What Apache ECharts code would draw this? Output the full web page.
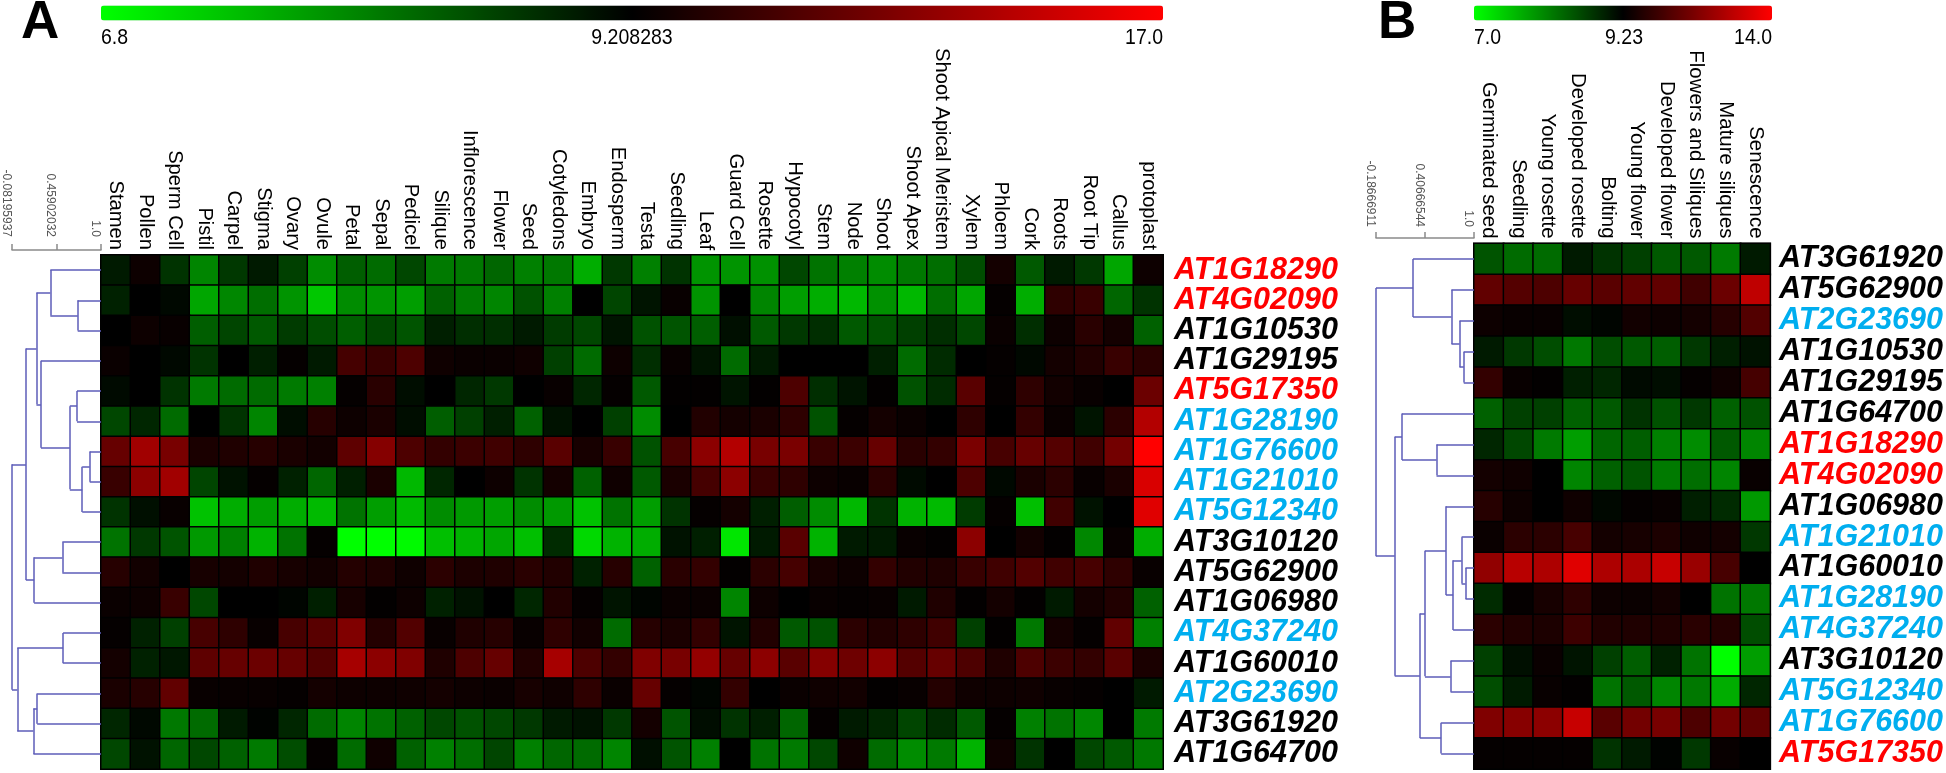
<!DOCTYPE html>
<html><head><meta charset="utf-8">
<style>html,body{margin:0;padding:0;background:#fff}#c{width:1946px;height:773px}</style>
<script src="https://cdn.jsdelivr.net/npm/echarts@6/dist/echarts.min.js"></script>
</head><body><div id="c"></div>
<script>
// Heat values are read from the picture as position on the colour bar:
// -100 = green end, 0 = black midpoint, +100 = red end.
const tissuesA = ['Stamen','Pollen','Sperm Cell','Pistil','Carpel','Stigma','Ovary','Ovule','Petal','Sepal','Pedicel','Silique','Inflorescence','Flower','Seed','Cotyledons','Embryo','Endosperm','Testa','Seedling','Leaf','Guard Cell','Rosette','Hypocotyl','Stem','Node','Shoot','Shoot Apex','Shoot Apical Meristem','Xylem','Phloem','Cork','Roots','Root Tip','Callus','protoplast'];
const genesA = ['AT1G18290','AT4G02090','AT1G10530','AT1G29195','AT5G17350','AT1G28190','AT1G76600','AT1G21010','AT5G12340','AT3G10120','AT5G62900','AT1G06980','AT4G37240','AT1G60010','AT2G23690','AT3G61920','AT1G64700'];
const a00 = [-10,5,-20,-52,-22,-10,-25,-55,-37,-42,-28,-48,-47,-40,-50,-47,-68,-22,-50,-20,-58,-58,-57,-28,-45,-50,-55,-47,-43,-30,8,-35,-10,-22,-65,5];
const a01 = [-13,0,-3,-65,-53,-43,-58,-78,-55,-58,-62,-38,-48,-52,-32,-50,0,-27,-8,3,-58,0,-52,-62,-68,-72,-57,-72,-43,-65,2,-68,18,22,-40,-20];
const a02 = [0,5,3,-37,-27,-35,-23,-30,-37,-28,-33,-12,-18,-18,-10,-23,-28,-8,-32,-33,-37,-6,-35,-22,-18,-35,-32,-25,-18,-28,4,-18,5,16,8,-38];
const a03 = [4,0,-3,-20,0,-12,2,-10,27,22,30,6,4,4,6,-25,-42,5,-18,3,-8,-42,-10,0,0,0,-12,-42,-17,0,2,-3,8,13,22,17];
const a04 = [-4,0,-20,-48,-42,-42,-48,-50,2,16,-5,0,-15,-22,0,3,-15,2,-35,1,1,-8,1,30,-18,-8,1,-32,-17,35,2,18,7,3,0,42];
const a05 = [-28,-15,-42,0,-20,-52,-5,15,5,10,-5,-37,-25,-12,-38,-7,0,-25,-55,0,13,8,10,18,-32,2,8,4,0,18,0,20,4,-8,17,70];
const a06 = [40,63,47,10,12,15,10,7,37,52,30,20,23,25,18,35,9,22,-32,28,55,70,47,48,22,23,40,16,20,48,28,40,33,25,45,100];
const a07 = [22,55,63,-27,-7,2,-13,-40,-12,10,-72,-15,0,5,-20,8,-38,6,-35,10,27,55,22,18,5,3,17,-4,0,30,-3,10,17,3,10,85];
const a08 = [-20,-6,3,-76,-68,-62,-68,-73,-45,-62,-73,-55,-60,-62,-55,-60,-76,-45,-62,-20,2,8,-12,-37,-55,-72,-20,-70,-73,-23,2,-75,25,-7,0,88];
const a09 = [-45,-22,-33,-60,-50,-70,-45,2,-100,-100,-98,-75,-70,-65,-75,-17,-85,-70,-68,-7,-12,-90,-10,35,-70,-10,-10,3,1,55,0,7,1,-53,3,-68];
const a10 = [15,7,0,9,8,12,9,7,14,12,6,17,11,12,16,13,-13,15,-38,16,20,1,17,27,9,5,20,13,12,22,25,32,25,28,18,3];
const a11 = [4,5,22,-28,0,0,-2,-12,9,1,5,-13,-7,0,-15,13,2,-8,-2,4,4,-52,5,0,3,2,3,-10,12,1,8,1,-10,8,13,-38];
const a12 = [2,-13,-25,28,18,3,28,35,50,14,32,3,12,15,3,18,7,-42,15,10,20,-8,13,-35,-32,17,13,18,25,-25,1,-47,8,2,38,-50];
const a13 = [8,-13,-9,37,40,42,40,32,65,55,50,12,30,40,13,65,30,20,50,47,58,40,55,35,52,43,55,33,40,30,12,30,23,20,35,10];
const a14 = [10,15,38,3,3,3,2,8,5,5,6,8,5,4,9,6,18,4,40,2,-2,20,0,4,6,7,1,3,14,6,5,6,3,2,0,-10];
const a15 = [-15,-3,-47,-42,-10,-1,-15,-42,-52,-45,-38,-28,-32,-28,-22,-10,-7,-22,8,-33,-5,-20,-12,-40,2,-10,-15,-27,-17,-35,2,-50,-45,-53,0,-48];
const a16 = [-28,-7,-40,-28,-38,-48,-30,2,-42,6,-38,-50,-43,-27,-50,-40,-42,-52,-6,-33,-50,0,-45,-48,-28,6,-42,-55,-48,-70,6,-20,0,-28,-35,-47];
const rowsA = [a00,a01,a02,a03,a04,a05,a06,a07,a08,a09,a10,a11,a12,a13,a14,a15,a16];

const stagesB = ['Germinated seed','Seedling','Young rosette','Developed rosette','Bolting','Young flower','Developed flower','Flowers and Siliques','Mature siliques','Senescence'];
const genesB = ['AT3G61920','AT5G62900','AT2G23690','AT1G10530','AT1G29195','AT1G64700','AT1G18290','AT4G02090','AT1G06980','AT1G21010','AT1G60010','AT1G28190','AT4G37240','AT3G10120','AT5G12340','AT1G76600','AT5G17350'];
const b00 = [-33,-42,-42,-10,-20,-25,-35,-35,-48,-10];
const b01 = [38,33,30,40,35,38,38,25,42,75];
const b02 = [5,3,3,-5,-2,7,5,8,15,32];
const b03 = [-10,-22,-30,-47,-30,-35,-37,-22,-12,-7];
const b04 = [20,3,1,-12,-15,-4,-5,2,6,27];
const b05 = [-38,-25,-25,-38,-35,-20,-32,-22,-38,-32];
const b06 = [-15,-28,-48,-62,-40,-37,-50,-55,-35,-52];
const b07 = [8,6,0,-52,-38,-33,-48,-43,-52,3];
const b08 = [15,5,0,6,-3,2,3,-12,-17,-60];
const b09 = [4,17,17,28,8,9,11,6,8,-22];
const b10 = [57,72,68,88,68,67,78,60,28,0];
const b11 = [-17,2,9,18,5,4,7,0,-45,-47];
const b12 = [17,13,11,24,13,12,12,16,14,-30];
const b13 = [-25,-6,4,-8,-25,-37,-13,-45,-100,-62];
const b14 = [-30,-10,3,1,-45,-35,-52,-47,-68,-15];
const b15 = [50,53,55,78,35,45,47,30,45,38];
const b16 = [2,2,2,2,-20,-10,-1,-22,3,0];
const rowsB = [b00,b01,b02,b03,b04,b05,b06,b07,b08,b09,b10,b11,b12,b13,b14,b15,b16];

const colourLabelsA = ['6.8','9.208283','17.0'];
const colourLabelsB = ['7.0','9.23','14.0'];
const scaleTicksA = [-0.08195937, 0.45902032, 1.0];
const scaleTicksB = [-0.18666911, 0.40666544, 1.0];

// Dendrogram merges: [child, child, height]. child >= 0 is a row; child < 0 is merge -(child+1).
const mergesA = [[1,2,.717],[0,-1,.384],[6,7,.863],[-3,8,.772],[4,5,.708],[-5,-4,.621],[3,-6,.270],[-2,-7,.215],
  [9,10,.530],[-9,11,.187],[-8,-10,.087],[12,13,.539],[14,15,.224],[-13,16,.178],[-12,-14,-.018],[-11,-15,-.08195937]];
const mergesB = [[3,4,.876],[2,-1,.825],[1,-2,.727],[0,-3,.262],[6,7,.546],[5,-5,.128],[10,11,.897],[9,-7,.850],
  [-8,12,.747],[8,-9,.660],[13,14,.716],[-10,-11,.406],[15,16,.602],[-12,-13,.344],[-6,-14,.040],[-4,-15,-.18666911]];

const geneColour = {AT1G18290:'#ff0000',AT4G02090:'#ff0000',AT5G17350:'#ff0000',
  AT1G28190:'#00aeef',AT1G76600:'#00aeef',AT1G21010:'#00aeef',AT5G12340:'#00aeef',AT4G37240:'#00aeef',AT2G23690:'#00aeef'};
const FONT = '"Liberation Sans", Arial, sans-serif';
const ramp = ['#00ff00','#000000','#ff0000'];
const grey = '#8a8a8a';
const blue = '#5c5cb8';

function cells(rows){const o=[];rows.forEach((r,y)=>r.forEach((v,x)=>o.push([x,y,v])));return o;}
function links(merges){
  const nodes=[],out=[];
  const pos=c=>c>=0?{y:c,h:1}:nodes[-c-1];
  merges.forEach(m=>{
    const a=pos(m[0]),b=pos(m[1]),h=m[2];
    out.push({coords:[[a.h,a.y],[h,a.y]]},{coords:[[b.h,b.y],[h,b.y]]},{coords:[[h,a.y],[h,b.y]]});
    nodes.push({y:(a.y+b.y)/2,h});
  });
  return out;
}
function heatX(cats,idx,size,margin,shift){return {type:'category',gridIndex:idx,position:'top',data:cats,
  axisLine:{show:false},axisTick:{show:false},splitLine:{show:false},
  axisLabel:{interval:0,rotate:90,fontFamily:FONT,fontSize:size,color:'#000',margin:margin,hideOverlap:false,padding:[0,0,shift,0]}};}
function heatY(cats,idx,margin){return {type:'category',gridIndex:idx,position:'right',inverse:true,data:cats,
  axisLine:{show:false},axisTick:{show:false},splitLine:{show:false},
  axisLabel:{interval:0,fontFamily:FONT,fontSize:30.5,fontWeight:'bold',fontStyle:'italic',margin:margin,
    color:v=>geneColour[v]||'#000'}};}
function scaleX(ticks,idx,offset,margin){return {type:'value',gridIndex:idx,position:'top',offset:offset,
  min:ticks[0],max:ticks[2],splitLine:{show:false},
  axisLine:{show:true,onZero:false,lineStyle:{color:grey,width:1.5}},
  axisTick:{show:true,length:6,customValues:ticks,lineStyle:{color:grey,width:1.5}},
  axisLabel:{show:true,customValues:ticks,rotate:90,verticalAlign:'top',fontFamily:FONT,fontSize:12,color:'#555',margin:margin,
    formatter:v=>v===1?'1.0':String(v)}};}
function scaleY(idx){return {type:'value',gridIndex:idx,inverse:true,min:-0.5,max:16.5,show:false};}
function heatSeries(rows,idx){return {type:'heatmap',xAxisIndex:idx,yAxisIndex:idx,data:cells(rows),progressive:0,
  itemStyle:{borderColor:'#000',borderWidth:1.5},emphasis:{disabled:true}};}
function dendSeries(merges,idx){return {type:'lines',coordinateSystem:'cartesian2d',xAxisIndex:idx,yAxisIndex:idx,
  data:links(merges),lineStyle:{color:blue,width:1.5,opacity:1},silent:true};}
function bar(seriesIndex,left,len){return {type:'continuous',seriesIndex,orient:'horizontal',min:-100,max:100,
  left,top:5.5,itemHeight:len,itemWidth:15,padding:0,calculable:false,hoverLink:false,text:null,
  inRange:{color:ramp},textStyle:{fontSize:0}};}
function label(text,x,y,align,font,sy){return {type:'text',x,y,scaleY:sy||1.12,silent:true,style:{text,font:font||('19.5px '+FONT),fill:'#000',align,verticalAlign:'middle'}};}

const chart = echarts.init(document.getElementById('c'),null,{renderer:'canvas'});
chart.setOption({
  animation:false,backgroundColor:'#fff',tooltip:{show:false},
  grid:[
    {left:101,top:255,width:1062,height:514,show:true,borderColor:grey,borderWidth:2,backgroundColor:'#000',containLabel:false},
    {left:1474,top:243.5,width:298,height:525.5,show:true,borderColor:grey,borderWidth:2,backgroundColor:'#000',containLabel:false},
    {left:3.3,top:255,width:97.7,height:514},
    {left:1376,top:243.5,width:98,height:525.5}
  ],
  xAxis:[heatX(tissuesA,0,20.2,5,6),heatX(stagesB,1,20.4,5,6),scaleX(scaleTicksA,2,5,13),scaleX(scaleTicksB,3,5.5,11)],
  yAxis:[heatY(genesA,0,11),heatY(genesB,1,9),scaleY(2),scaleY(3)],
  visualMap:[bar(0,101,1062),bar(1,1474,298)],
  series:[heatSeries(rowsA,0),heatSeries(rowsB,1),dendSeries(mergesA,2),dendSeries(mergesB,3)],
  graphic:[
    label('A',21,23,'left','bold 53px '+FONT,1),
    label('B',1378,23,'left','bold 53px '+FONT,1),
    label(colourLabelsA[0],101,38,'left'),
    label(colourLabelsA[1],632,38,'center'),
    label(colourLabelsA[2],1163,38,'right'),
    label(colourLabelsB[0],1474,38,'left'),
    label(colourLabelsB[1],1624,38,'center'),
    label(colourLabelsB[2],1772,38,'right')
  ]
});
</script></body></html>
